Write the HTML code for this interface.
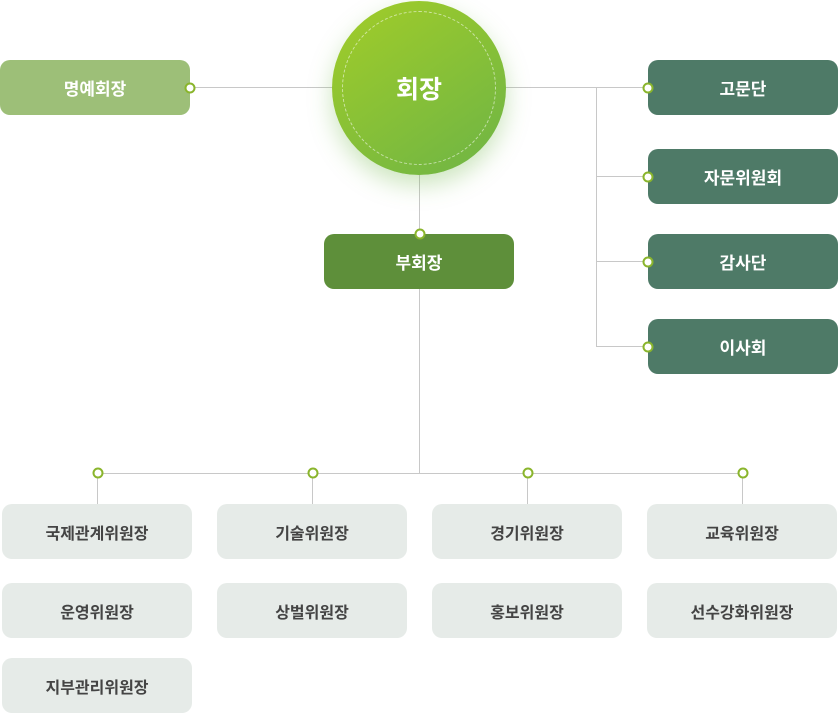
<!DOCTYPE html>
<html><head><meta charset="utf-8"><style>
*{margin:0;padding:0;box-sizing:border-box}
body{width:838px;height:713px;background:#fff;position:relative;overflow:hidden;font-family:"Liberation Sans","Noto Sans CJK KR",sans-serif}
.b{position:absolute;width:190px;height:55px;border-radius:10px;display:flex;align-items:center;justify-content:center;font-size:17px;font-weight:bold;color:#fff}
.g{background:#e6ebe8;color:#444;font-size:16px}
.l{position:absolute;background:#c8c8c8}
.d{position:absolute;width:11px;height:11px;border-radius:50%;background:#fff;border:2.5px solid #8ab52c;transform:translate(-50%,-50%)}
.c{position:absolute;left:332px;top:1px;width:174px;height:174px;border-radius:50%;background:linear-gradient(145deg,#a2cd28,#6db446);box-shadow:0 10px 24px rgba(110,180,70,.35);display:flex;align-items:center;justify-content:center;color:#fff;font-size:25px;font-weight:bold}
.c:before{content:"";position:absolute;left:10px;top:10px;right:10px;bottom:10px;border-radius:50%;border:1px dashed rgba(255,255,255,.55)}
</style></head><body>
<div class="l" style="left:190px;top:87px;width:406px;height:1px"></div>
<div class="l" style="left:506px;top:87px;width:142px;height:1px"></div>
<div class="l" style="left:596px;top:87px;width:1px;height:259px"></div>
<div class="l" style="left:596px;top:176px;width:52px;height:1px"></div>
<div class="l" style="left:596px;top:261px;width:52px;height:1px"></div>
<div class="l" style="left:596px;top:346px;width:52px;height:1px"></div>
<div class="l" style="left:419px;top:170px;width:1px;height:303px"></div>
<div class="l" style="left:97px;top:473px;width:645px;height:1px"></div>
<div class="l" style="left:97px;top:473px;width:1px;height:31px"></div>
<div class="l" style="left:312px;top:473px;width:1px;height:31px"></div>
<div class="l" style="left:527px;top:473px;width:1px;height:31px"></div>
<div class="l" style="left:742px;top:473px;width:1px;height:31px"></div>

<div class="c">회장</div>
<div class="b" style="left:0;top:60px;background:#9dbf78">명예회장</div>
<div class="b" style="left:648px;top:60px;background:#4e7a67">고문단</div>
<div class="b" style="left:648px;top:149px;background:#4e7a67">자문위원회</div>
<div class="b" style="left:648px;top:234px;background:#4e7a67">감사단</div>
<div class="b" style="left:648px;top:319px;background:#4e7a67">이사회</div>
<div class="b" style="left:324px;top:234px;background:#5e8f3a">부회장</div>

<div class="b g" style="left:2px;top:504px">국제관계위원장</div>
<div class="b g" style="left:217px;top:504px">기술위원장</div>
<div class="b g" style="left:432px;top:504px">경기위원장</div>
<div class="b g" style="left:647px;top:504px">교육위원장</div>
<div class="b g" style="left:2px;top:583px">운영위원장</div>
<div class="b g" style="left:217px;top:583px">상벌위원장</div>
<div class="b g" style="left:432px;top:583px">홍보위원장</div>
<div class="b g" style="left:647px;top:583px">선수강화위원장</div>
<div class="b g" style="left:2px;top:658px">지부관리위원장</div>

<div class="d" style="left:190px;top:87.5px"></div>
<div class="d" style="left:648px;top:87.5px"></div>
<div class="d" style="left:648px;top:176.5px"></div>
<div class="d" style="left:648px;top:261.5px"></div>
<div class="d" style="left:648px;top:346.5px"></div>
<div class="d" style="left:419.5px;top:234px"></div>
<div class="d" style="left:97.5px;top:473px"></div>
<div class="d" style="left:312.5px;top:473px"></div>
<div class="d" style="left:527.5px;top:473px"></div>
<div class="d" style="left:742.5px;top:473px"></div>
</body></html>
